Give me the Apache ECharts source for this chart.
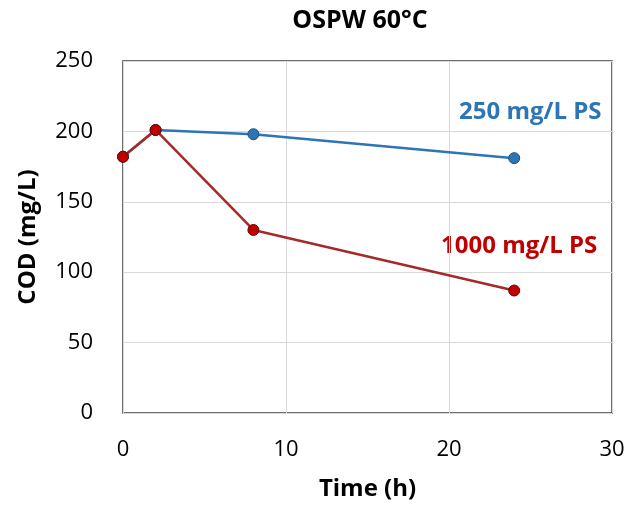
<!DOCTYPE html>
<html><head><meta charset="utf-8">
<script src="https://cdn.jsdelivr.net/npm/echarts@6/dist/echarts.min.js"></script>
<style>html,body{margin:0;padding:0;background:#fff}#c{width:628px;height:507px}</style>
</head><body><div id="c"></div>
<script>
const timeH = [0, 2, 8, 24];
const cod250 = [182, 201, 198, 181];
const cod1000 = [182, 201, 130, 87];
const xTicks = [0, 10, 20, 30];
const yTicks = [0, 50, 100, 150, 200, 250];

const chart = echarts.init(document.getElementById('c'));
const font = '"Open Sans", "Noto Sans", sans-serif';
chart.setOption({
  animation: false,
  title: {text: 'OSPW 60\u00B0C', left: 355, top: 3, textAlign: 'center',
    textStyle: {fontFamily: font, fontWeight: 'bold', fontSize: 25, color: '#000'}},
  grid: {left: 123, right: 16, top: 61, bottom: 94, show: true, borderColor: '#404040', borderWidth: 1.5},
  xAxis: {type: 'value', min: xTicks[0], max: xTicks[xTicks.length-1], interval: 10,
    name: 'Time (h)', nameLocation: 'middle', nameGap: 64,
    nameTextStyle: {fontFamily: font, fontWeight: 'bold', fontSize: 24, color: '#000'},
    axisLine: {show: false}, axisTick: {show: false},
    axisLabel: {fontFamily: font, fontSize: 22, color: '#000', margin: 26},
    splitLine: {show: true, lineStyle: {color: '#d9d9d9', width: 1}}},
  yAxis: {type: 'value', min: yTicks[0], max: yTicks[yTicks.length-1], interval: 50,
    name: 'COD (mg/L)', nameLocation: 'middle', nameGap: 83, nameRotate: 90,
    nameTextStyle: {fontFamily: font, fontWeight: 'bold', fontSize: 24, color: '#000'},
    axisLine: {show: false}, axisTick: {show: false},
    axisLabel: {fontFamily: font, fontSize: 22, color: '#000', margin: 30},
    splitLine: {show: true, lineStyle: {color: '#d9d9d9', width: 1}}},
  series: [
    {name: '250 mg/L PS', type: 'line', data: timeH.map((t,i)=>[t, cod250[i]]),
      symbol: 'circle', symbolSize: 11, z: 2,
      lineStyle: {color: '#2E75B6', width: 2.5},
      itemStyle: {color: '#2E75B6', borderColor: '#1F4E79', borderWidth: 1}},
    {name: '1000 mg/L PS', type: 'line', data: timeH.map((t,i)=>[t, cod1000[i]]),
      symbol: 'circle', symbolSize: 11, z: 3,
      lineStyle: {color: '#A52A2A', width: 2.5},
      itemStyle: {color: '#C00000', borderColor: '#5A0A0A', borderWidth: 1}}
  ],
  graphic: [
    {type: 'text', left: 459, top: 100, style: {text: '250 mg/L PS', fill: '#2E75B6',
      font: 'bold 24px ' + font}},
    {type: 'text', left: 441, top: 234, style: {text: '1000 mg/L PS', fill: '#C00000',
      font: 'bold 24px ' + font}}
  ]
});
</script></body></html>
